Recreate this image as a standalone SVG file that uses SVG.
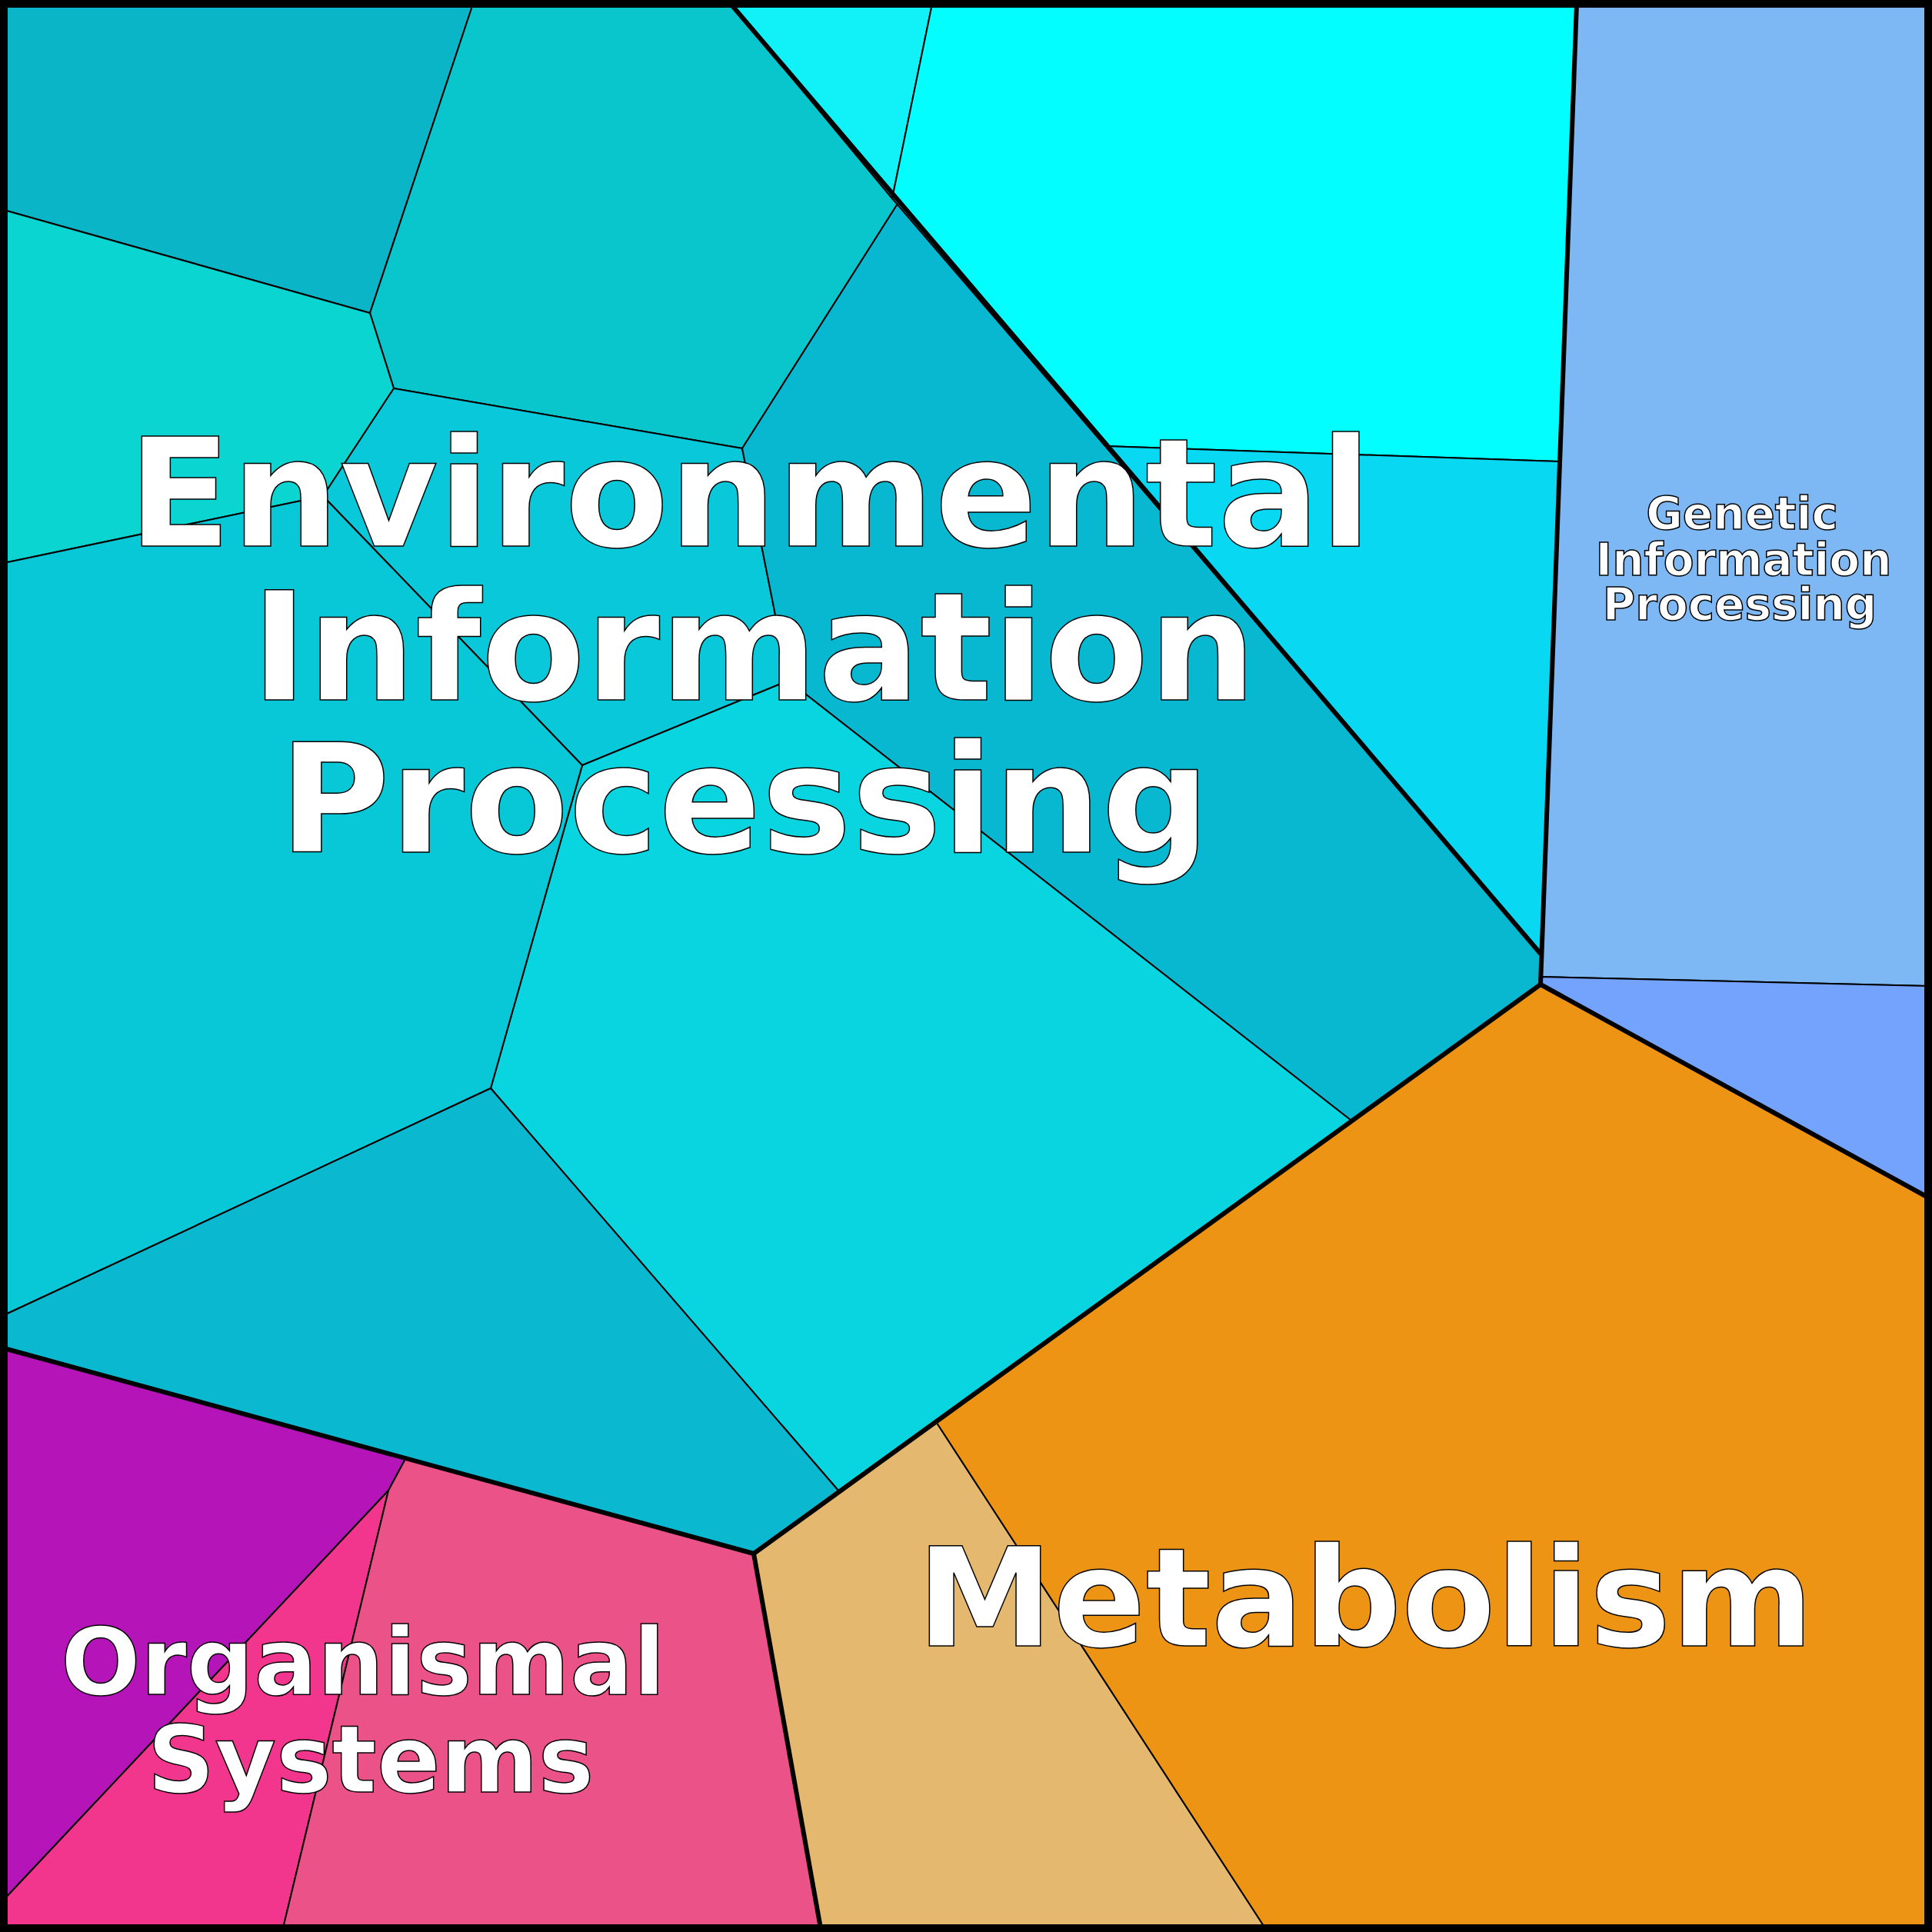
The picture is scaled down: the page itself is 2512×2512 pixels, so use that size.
<svg xmlns="http://www.w3.org/2000/svg" width="2512" height="2512" viewBox="0 0 2512 2512">
<style>
.c{stroke:#000;stroke-width:2;stroke-linejoin:round}
.t{stroke:#000;stroke-width:6;fill:none;stroke-linejoin:round}
text{font-family:"DejaVu Sans",sans-serif;font-weight:bold;fill:#fff;stroke:#000;stroke-width:1.5;text-anchor:middle}
</style>
<g id="env">
<polygon class="c" fill="#0AB5C8" points="5,5 615,5 481,407 5,273"/>
<polygon class="c" fill="#08C6CC" points="615,5 950,5 1160,258 1167,265 965,583 512,505 481,407"/>
<polygon class="c" fill="#0AD5D0" points="5,273 481,407 512,505 420,645 5,732"/>
<polygon class="c" fill="#08C8DA" points="512,505 965,583 1025,885 757,995 420,645"/>
<polygon class="c" fill="#08B8D0" points="1167,265 2003,1240 2003,1280 1757,1457 1025,885 965,583"/>
<polygon class="c" fill="#08D5E0" points="757,995 1025,885 1757,1457 1090,1938 638,1415"/>
<polygon class="c" fill="#08C8D8" points="5,732 420,645 757,995 638,1415 5,1710"/>
<polygon class="c" fill="#0AB8D0" points="5,1710 638,1415 1090,1938 980,2020 5,1753"/>
<polygon class="c" fill="#10F2F8" points="950,5 1212,5 1160,258"/>
<polygon class="c" fill="#02FEFE" points="1212,5 2050,5 2027,600 1437,580 1160,258"/>
<polygon class="c" fill="#08D8F2" points="1437,580 2027,600 2003,1240"/>
</g>
<g id="gen">
<polygon class="c" fill="#7DB8F5" points="2050,5 2507,5 2507,1282 2003,1270"/>
<polygon class="c" fill="#73A3FD" points="2003,1270 2507,1282 2507,1557 2003,1280"/>
</g>
<g id="org">
<polygon class="c" fill="#B414B8" points="5,1753 527,1897 505,1938 5,2470"/>
<polygon class="c" fill="#F2368E" points="5,2470 505,1938 368,2507 5,2507"/>
<polygon class="c" fill="#EA5288" points="527,1897 980,2020 1067,2507 368,2507 505,1938"/>
</g>
<g id="met">
<polygon class="c" fill="#E5B870" points="980,2020 1218,1850 1645,2507 1067,2507"/>
<polygon class="c" fill="#EE9415" points="1218,1850 2003,1280 2507,1557 2507,2507 1645,2507"/>
</g>
<g id="connectors">
<polyline class="t" stroke-width="4" points="950,5 2003,1240"/>
<polyline class="t" points="2050,5 2003,1280 2507,1557"/>
<polyline class="t" points="5,1753 980,2020 2003,1280"/>
<polyline class="t" points="980,2020 1067,2507"/>
<rect x="5" y="5" width="2502" height="2502" fill="none" stroke="#000" stroke-width="10"/>
</g>
<g id="labels">
<text font-size="197" x="975" y="710">Environmental</text>
<text font-size="197" x="980" y="910">Information</text>
<text font-size="197" x="968" y="1108">Processing</text>
<text font-size="58" x="2265" y="688">Genetic</text>
<text font-size="58" x="2267" y="748">Information</text>
<text font-size="58" x="2262" y="806">Processing</text>
<text font-size="122" x="472" y="2203">Organismal</text>
<text font-size="122" x="482" y="2330">Systems</text>
<text font-size="178" x="1775" y="2140">Metabolism</text>
</g>
</svg>
